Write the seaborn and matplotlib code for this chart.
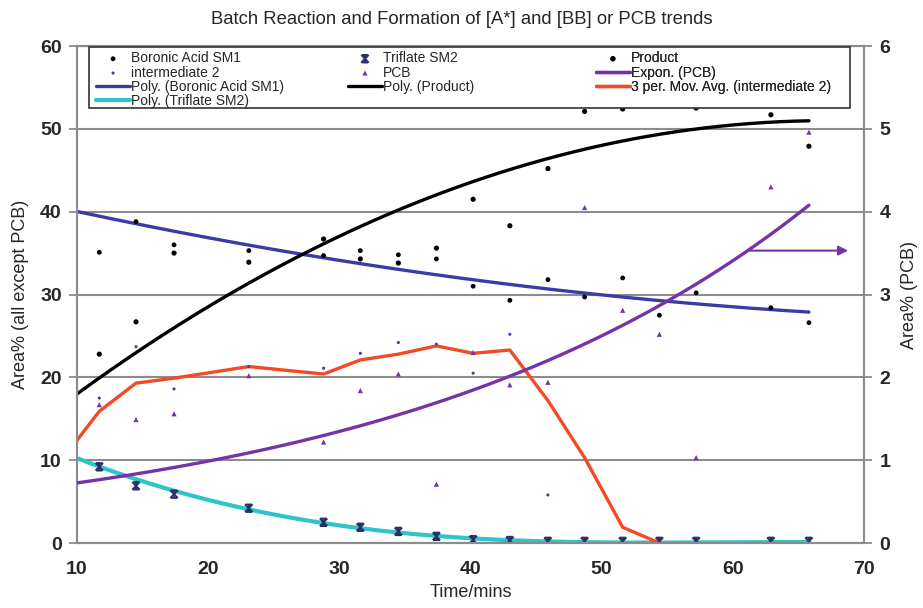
import numpy as np
import pandas as pd
import matplotlib
matplotlib.use("Agg")
import matplotlib.pyplot as plt
from matplotlib.path import Path
from matplotlib.patches import Rectangle
import seaborn as sns

# ---------------- data ----------------
time_min = [11.7, 14.5, 17.4, 23.1, 28.8, 31.6, 34.5, 37.4, 40.2, 43.0,
            45.9, 48.7, 51.6, 54.4, 57.2, 62.9, 65.8]
boronic_sm1 = [35.1, 38.8, 36.0, 35.3, 34.7, 35.3, 34.8, 34.3, 31.0, 29.3,
               31.8, 29.7, 32.0, 27.5, 30.2, 28.4, 26.6]
product = [22.8, 26.7, 35.0, 33.9, 36.7, 34.3, 33.8, 35.6, 41.5, 38.3,
           45.2, 52.1, 52.4, np.nan, 52.5, 51.7, 47.9]
triflate_sm2 = [9.2, 6.9, 5.9, 4.2, 2.5, 1.9, 1.4, 0.8, 0.4, 0.3,
                0.2, 0.2, 0.2, 0.2, 0.2, 0.2, 0.2]
intermediate_2 = [17.5, 23.7, 18.6, 21.3, 21.1, 22.9, 24.2, 24.0, 20.5, 25.2,
                  5.8, 0.0, 0.0, 0.0, np.nan, np.nan, np.nan]
pcb = [1.67, 1.49, 1.56, 2.02, 1.22, 1.84, 2.04, 0.71, 2.30, 1.91,
       1.94, 4.05, 2.81, 2.52, 1.03, 4.30, 4.96]

# 3 per. moving average of intermediate 2 (as drawn, clipped at t=10)
mavg_time = [10.0, 11.7, 14.5, 17.4, 23.1, 28.8, 31.6, 34.5, 37.4, 40.2,
             43.0, 45.9, 48.7, 51.6, 54.4]
mavg_int2 = [12.4, 15.9, 19.3, 19.9, 21.3, 20.4, 22.1, 22.8, 23.8, 22.9,
             23.3, 17.2, 10.3, 1.9, 0.0]

# trendline values (anchors)
trend_boronic_t = [10.0, 28.8, 45.9, 65.8]
trend_boronic_v = [40.0, 34.5, 30.6, 27.9]
trend_product_t = [10.0, 14.8, 27.2, 40.2, 48.7, 65.8]
trend_product_v = [17.9, 23.4, 34.9, 43.6, 47.5, 51.0]
trend_triflate_t = [10.0, 14.5, 17.4, 23.1, 28.8, 31.6, 34.5, 37.4, 40.2,
                    45.9, 51.6, 57.2, 62.9, 65.8]
trend_triflate_v = [10.3, 7.7, 6.1, 4.2, 2.5, 1.8, 1.3, 0.8, 0.4,
                    0.2, 0.1, 0.1, 0.1, 0.1]
trend_pcb_t = [10.0, 28.8, 43.0, 55.0, 65.8]
trend_pcb_v = [0.725, 1.30, 2.01, 2.92, 4.08]
trend_range = [10.0, 65.8]

x_ticks = [10, 20, 30, 40, 50, 60, 70]
y_ticks = [0, 10, 20, 30, 40, 50, 60]
y2_ticks = [0, 1, 2, 3, 4, 5, 6]

title = "Batch Reaction and Formation of [A*] and [BB] or PCB trends"

# ---------------- styling ----------------
sns.set_style("white")
plt.rcParams["font.family"] = ["Liberation Sans", "DejaVu Sans"]

c_blue = "#3b3ba6"
c_black = "#000000"
c_cyan = "#2fc3cb"
c_purple = "#7434a8"
c_red = "#f24a22"
c_star = "#2b3064"
c_int2 = "#4a3c9c"
c_grid = "#8c8c8c"

star = Path([(-1, -1), (1, 1), (-1, 1), (1, -1), (0, -1), (0, 1),
             (-0.8, 1), (0.8, 1), (-0.8, -1), (0.8, -1)],
            [Path.MOVETO, Path.LINETO, Path.MOVETO, Path.LINETO,
             Path.MOVETO, Path.LINETO, Path.MOVETO, Path.LINETO,
             Path.MOVETO, Path.LINETO])

fig = plt.figure(figsize=(9.23, 6.08), dpi=100)
ax = fig.add_axes([0.0834, 0.1069, 0.8527, 0.8174])
ax2 = ax.twinx()

df = pd.DataFrame({"t": time_min, "boronic": boronic_sm1, "product": product,
                   "triflate": triflate_sm2, "int2": intermediate_2, "pcb": pcb})

tt = np.linspace(trend_range[0], trend_range[1], 300)
fit_b = np.polyval(np.polyfit(trend_boronic_t, trend_boronic_v, 2), tt)
fit_p = np.polyval(np.polyfit(trend_product_t, trend_product_v, 2), tt)
fit_t = np.polyval(np.polyfit(trend_triflate_t, trend_triflate_v, 4), tt)
k, a = np.polyfit(trend_pcb_t, np.log(trend_pcb_v), 1)
fit_pcb = np.exp(a + k * tt)

# trend lines (left axis)
sns.lineplot(x=tt, y=fit_b, ax=ax, color=c_blue, lw=2.4, legend=False,
             label="Poly. (Boronic Acid SM1)", zorder=3)
sns.lineplot(x=tt, y=fit_p, ax=ax, color=c_black, lw=2.4, legend=False,
             label="Poly. (Product)", zorder=3)
sns.lineplot(x=tt, y=fit_t, ax=ax, color=c_cyan, lw=3.0, legend=False,
             label="Poly. (Triflate SM2)", zorder=3)
sns.lineplot(x=mavg_time, y=mavg_int2, ax=ax, color=c_red, lw=2.4, legend=False,
             label="3 per. Mov. Avg. (intermediate 2)", zorder=3)

# data points (left axis)
sns.scatterplot(data=df, x="t", y="boronic", ax=ax, color="black", s=12,
                edgecolor="none", legend=False, label="Boronic Acid SM1", zorder=4)
sns.scatterplot(data=df, x="t", y="product", ax=ax, color="black", s=14,
                edgecolor="none", legend=False, label="Product", zorder=4)
sns.scatterplot(data=df, x="t", y="triflate", ax=ax, marker=star, s=30,
                facecolor="none", edgecolor=c_star, linewidth=1.3, legend=False,
                label="Triflate SM2", zorder=4)
sns.scatterplot(data=df, x="t", y="int2", ax=ax, color=c_int2, s=5,
                edgecolor="none", legend=False, label="intermediate 2", zorder=4)

# right axis: PCB
sns.lineplot(x=tt, y=fit_pcb, ax=ax2, color=c_purple, lw=2.4, legend=False,
             label="Expon. (PCB)", zorder=3)
sns.scatterplot(data=df, x="t", y="pcb", ax=ax2, color=c_purple, marker="^",
                s=14, edgecolor="none", legend=False, label="PCB", zorder=4)
ax2.annotate("", xy=(69.0, 3.53), xytext=(61.0, 3.53),
             arrowprops=dict(arrowstyle="-|>", color=c_purple, lw=1.5,
                             mutation_scale=14))

# axes
ax.set_xlim(10, 70)
ax.set_ylim(0, 60)
ax2.set_ylim(0, 6)
ax.set_xticks(x_ticks)
ax.set_xticklabels([str(v) for v in x_ticks], fontweight="bold", fontsize=14)
ax.set_yticks(y_ticks)
ax.set_yticklabels([str(v) for v in y_ticks], fontweight="bold", fontsize=14)
ax2.set_yticks(y2_ticks)
ax2.set_yticklabels([str(v) for v in y2_ticks], fontweight="bold", fontsize=14)
ax.yaxis.grid(True, color=c_grid, lw=1.5)
ax.xaxis.grid(False)
ax.set_axisbelow(True)
for a_ in (ax, ax2):
    for sp in a_.spines.values():
        sp.set_color(c_grid)
        sp.set_linewidth(1.5)
    a_.tick_params(direction="out", length=6, width=1.3, color=c_grid, pad=5)
ax.tick_params(axis="x", pad=7)

ax.set_xlabel("Time/mins", fontsize=13, labelpad=4)
ax.set_ylabel("Area% (all except PCB)", fontsize=13, labelpad=8)
ax2.set_ylabel("Area% (PCB)", fontsize=13, labelpad=8)
fig.text(0.5, 0.968, title, ha="center", va="center", fontsize=13.3)

# legend: frame + three columns
h1, l1 = ax.get_legend_handles_labels()
h2, l2 = ax2.get_legend_handles_labels()
hmap = dict(zip(l1 + l2, h1 + h2))
cols = [["Boronic Acid SM1", "intermediate 2", "Poly. (Boronic Acid SM1)", "Poly. (Triflate SM2)"],
        ["Triflate SM2", "PCB", "Poly. (Product)"],
        ["Product", "Expon. (PCB)", "3 per. Mov. Avg. (intermediate 2)"]]
col_x = [0.0229, 0.343, 0.658]
ax2.add_patch(Rectangle((0.0152, 0.875), 0.967, 0.123, transform=ax2.transAxes,
                        facecolor="white", edgecolor="#333333", lw=1.2,
                        zorder=6, clip_on=False))
for labels, x0 in zip(cols, col_x):
    leg = ax2.legend([hmap[l] for l in labels], labels, loc="upper left",
                     bbox_to_anchor=(x0, 0.992), bbox_transform=ax2.transAxes,
                     frameon=False, fontsize=10, handlelength=2.4,
                     handletextpad=0.1, labelspacing=0.02, borderpad=0.1,
                     borderaxespad=0, markerscale=1.0)
    leg.set_zorder(7)
    ax2.add_artist(leg)

fig.savefig("out.png", dpi=100)
